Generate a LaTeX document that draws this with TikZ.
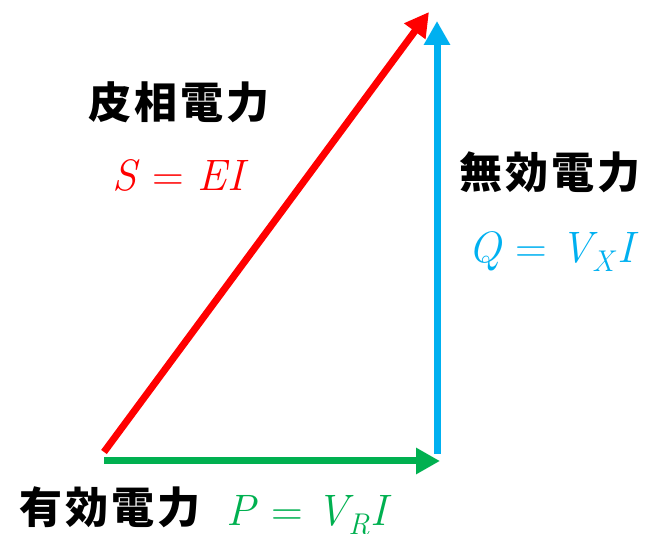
\documentclass[tikz,border=0pt]{standalone}
\usepackage{fontspec}
\usetikzlibrary{arrows.meta}
\newfontfamily\cjk{Noto Sans CJK JP}[LetterSpace=7]
\newfontfamily\eqfont{Latin Modern Roman}
\newcommand{\eqsign}{\/\hspace{0.3em}{\upshape=}\hspace{0.3em}}
\newcommand{\lowsub}[1]{\raisebox{-0.2em}{\fontsize{30}{32}\selectfont #1\/}\hspace{0.02em}}
\definecolor{cred}{HTML}{FF0000}
\definecolor{cblue}{HTML}{00B0F0}
\definecolor{cgreen}{HTML}{00B050}
\begin{document}
\begin{tikzpicture}[x=1pt,y=-1pt,
  vec/.style={line width=7pt,-{Triangle[length=24pt,width=25pt]}},
  jlabel/.style={font=\cjk\bfseries\fontsize{43}{47}\selectfont,inner sep=0pt,anchor=center},
  mlabel/.style={font=\eqfont\itshape\fontsize{44}{48}\selectfont,inner sep=0pt,anchor=base}]
\useasboundingbox (0,0) rectangle (646,534);
\coordinate (o) at (104,452);
\coordinate (s) at (429,12);
\coordinate (qb) at (437,454);
\coordinate (qt) at (437,21);
\coordinate (po) at (104,461);
\coordinate (pt) at (440,461);
\draw[vec,cred] (o) -- (s);
\draw[vec,cblue] (qb) -- (qt);
\draw[vec,cgreen] (po) -- (pt);
\node[jlabel] (ls) at (179,102) {皮相電力};
\node[mlabel,text=cred] (ms) at (178,191) {S\eqsign EI};
\node[jlabel] (lq) at (550,172) {無効電力};
\node[mlabel,text=cblue] (mq) at (551,263) {Q\eqsign V\lowsub{X}I};
\node[jlabel] (lp) at (110,507) {有効電力};
\node[mlabel,text=cgreen] (mp) at (307,526) {P\eqsign V\lowsub{R}I};
\end{tikzpicture}
\end{document}
